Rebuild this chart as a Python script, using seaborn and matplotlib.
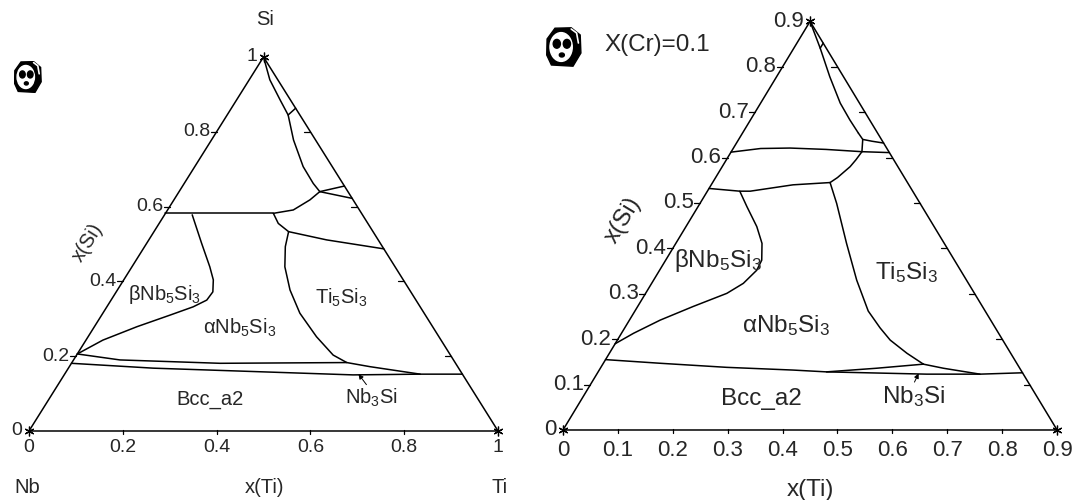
import numpy as np
import pandas as pd
import matplotlib
matplotlib.use("Agg")
import matplotlib.pyplot as plt
import seaborn as sns
from matplotlib.patches import Ellipse, Polygon

#---------Data (x(Ti), x(Si))--------------------------------
# left panel: Nb-Ti-Si
left_frame = [(0.0, 0.0), (1.0, 0.0), (0.0, 1.0), (0.0, 0.0)]
left_si58 = [(0.0, 0.582), (0.12, 0.582), (0.230, 0.582)]
left_beta = [(0.059, 0.578), (0.117, 0.502), (0.166, 0.439), (0.191, 0.404), (0.206, 0.372),
             (0.204, 0.350), (0.184, 0.332), (0.146, 0.310), (0.091, 0.279), (0.036, 0.243), (0.0, 0.206)]
left_bcc_top = [(0.0, 0.206), (0.099, 0.190), (0.317, 0.181), (0.586, 0.183), (0.641, 0.172),
                (0.758, 0.152), (0.848, 0.152)]
left_bcc_low = [(0.0, 0.181), (0.181, 0.168), (0.399, 0.159), (0.616, 0.150), (0.758, 0.152)]
left_ti5 = [(0.287, 0.533), (0.300, 0.493), (0.326, 0.439), (0.368, 0.377), (0.420, 0.315),
            (0.487, 0.252), (0.547, 0.203), (0.586, 0.183)]
left_ti5_top = [(0.287, 0.533), (0.379, 0.511), (0.513, 0.487)]
left_link = [(0.230, 0.582), (0.254, 0.555), (0.287, 0.533)]
left_arc = [(0.230, 0.582), (0.268, 0.591), (0.290, 0.618), (0.300, 0.640)]
left_edge_hi = [(0.300, 0.640), (0.345, 0.655)]
left_edge_lo = [(0.300, 0.640), (0.378, 0.622)]
left_apex = [(0.0, 1.0), (0.044, 0.939), (0.093, 0.885), (0.130, 0.845), (0.175, 0.778),
             (0.231, 0.707), (0.275, 0.662), (0.300, 0.640)]
left_cross = [(0.130, 0.845), (0.137, 0.863)]

# right panel: X(Cr)=0.1
right_frame = [(0.0, 0.0), (0.9, 0.0), (0.0, 0.9), (0.0, 0.0)]
right_apex = [(0.0, 0.9), (0.048, 0.841), (0.097, 0.778), (0.145, 0.720), (0.181, 0.683), (0.211, 0.654)]
right_cross = [(0.048, 0.841), (0.048, 0.852)]
right_top_edge = [(0.211, 0.654), (0.226, 0.640), (0.245, 0.636), (0.268, 0.632)]
right_stub = [(0.226, 0.640), (0.238, 0.613)]
right_si61 = [(0.0, 0.612), (0.05, 0.620), (0.103, 0.621), (0.17, 0.618), (0.238, 0.613), (0.289, 0.611)]
right_link = [(0.238, 0.613), (0.236, 0.595), (0.233, 0.580), (0.222, 0.556), (0.214, 0.545)]
right_si53 = [(0.0, 0.532), (0.059, 0.526), (0.078, 0.526), (0.149, 0.540), (0.214, 0.545)]
right_beta = [(0.059, 0.526), (0.089, 0.492), (0.129, 0.448), (0.157, 0.411), (0.175, 0.374),
              (0.177, 0.352), (0.167, 0.323), (0.148, 0.301), (0.101, 0.272), (0.056, 0.242),
              (0.022, 0.213), (0.0, 0.19)]
right_ti5 = [(0.214, 0.545), (0.249, 0.499), (0.311, 0.411), (0.370, 0.330), (0.425, 0.262),
             (0.465, 0.225), (0.497, 0.198), (0.542, 0.169), (0.584, 0.145)]
right_bcc_top = [(0.0, 0.155), (0.103, 0.147), (0.229, 0.138), (0.353, 0.132), (0.416, 0.128),
                 (0.503, 0.136), (0.584, 0.145)]
right_bcc_low = [(0.416, 0.128), (0.601, 0.123), (0.698, 0.123), (0.774, 0.126)]
right_nb3_top = [(0.584, 0.145), (0.625, 0.136), (0.698, 0.123)]

left_ticks = [0.2, 0.4, 0.6, 0.8]
left_labels = ["0", "0.2", "0.4", "0.6", "0.8", "1"]
right_ticks = [0.1, 0.2, 0.3, 0.4, 0.5, 0.6, 0.7, 0.8]
right_labels = ["0", "0.1", "0.2", "0.3", "0.4", "0.5", "0.6", "0.7", "0.8", "0.9"]


def to_frame(curves):
    rows = []
    for name, pts in curves.items():
        for i, (ti, si) in enumerate(pts):
            rows.append({"curve": name, "order": i, "X": ti + si / 2, "Y": si})
    return pd.DataFrame(rows)


left_df = to_frame({"frame": left_frame, "si58": left_si58, "beta": left_beta, "bcc_top": left_bcc_top,
                    "bcc_low": left_bcc_low, "ti5": left_ti5, "ti5_top": left_ti5_top, "link": left_link,
                    "arc": left_arc, "hi": left_edge_hi, "lo": left_edge_lo, "apex": left_apex,
                    "cross": left_cross})
right_df = to_frame({"frame": right_frame, "apex": right_apex, "cross": right_cross,
                     "top_edge": right_top_edge, "stub": right_stub, "si61": right_si61,
                     "link": right_link, "si53": right_si53, "beta": right_beta, "ti5": right_ti5,
                     "bcc_top": right_bcc_top, "bcc_low": right_bcc_low, "nb3": right_nb3_top})

#---------Style-----------
sns.set_style("white")
plt.rcParams["font.family"] = ["Liberation Sans", "DejaVu Sans"]
plt.rcParams["mathtext.fontset"] = "custom"
plt.rcParams["mathtext.rm"] = "Liberation Sans"
plt.rcParams["mathtext.default"] = "regular"

fig = plt.figure(figsize=(10.88, 5.0), dpi=100)
axL = fig.add_axes([0, 0, 0.5, 1])
axR = fig.add_axes([0.5, 0, 0.5, 1])


def draw_panel(ax, df, top, ticks, labels, dx, dy, fs):
    sns.lineplot(data=df, x="X", y="Y", units="curve", estimator=None, sort=False,
                 color="black", linewidth=1.1, ax=ax, legend=False)
    # edge ticks
    for t in ticks:
        ax.plot([t / 2 - dx, t / 2], [t, t], color="black", lw=0.9)
        ax.plot([top - t / 2 - dx, top - t / 2], [t, t], color="black", lw=0.9)
        ax.plot([t, t], [-dy, dy * 0.3], color="black", lw=0.9)
    corners = pd.DataFrame({"X": [0, top, top / 2], "Y": [0, 0, top]})
    ax.plot(corners["X"], corners["Y"], ls="none", marker=(6, 2, 0), ms=7, color="black", mew=0.9)
    vals = [0] + ticks + [top]
    for v, lab in zip(vals, labels):
        ax.text(v / 2 - dx * 1.1, v, lab, ha="right", va="center", fontsize=fs)
        ax.text(v, -0.022, lab, ha="center", va="top", fontsize=fs)
    ax.set_axis_off()


def draw_panda(x0, y0, w, h):
    ia = fig.add_axes([x0 / 1088, 1 - (y0 + h) / 500, w / 1088, h / 500])
    ia.add_patch(Polygon([(0.15, 0.05), (0.75, 0.02), (0.97, 0.35), (0.95, 0.8), (0.7, 0.98),
                          (0.25, 0.97), (0.03, 0.7), (0.02, 0.3)], closed=True, color="black"))
    ia.add_patch(Ellipse((0.42, 0.5), 0.62, 0.72, color="white"))
    ia.add_patch(Ellipse((0.3, 0.58), 0.2, 0.22, color="black"))
    ia.add_patch(Ellipse((0.58, 0.58), 0.2, 0.22, color="black"))
    ia.add_patch(Ellipse((0.44, 0.3), 0.14, 0.1, color="black"))
    ia.plot([0.7, 0.85, 0.9], [0.95, 0.85, 0.6], color="white", lw=1.2)
    ia.set_xlim(0, 1)
    ia.set_ylim(0, 1)
    ia.set_axis_off()


#---------Left panel-----------
draw_panel(axL, left_df, 1.0, left_ticks, left_labels, 0.0128, 0.008, 14)
axL.set_xlim(-0.0618, 1.098)
axL.set_ylim(-0.1845, 1.1524)
fsl = 14.5
axL.text(0.503, 1.10, "Si", ha="center", va="center", fontsize=fsl)
axL.text(-0.004, -0.15, "Nb", ha="center", va="center", fontsize=fsl)
axL.text(0.503, -0.15, "x(Ti)", ha="center", va="center", fontsize=fsl)
axL.text(1.004, -0.15, "Ti", ha="center", va="center", fontsize=fsl)
axL.text(0.124, 0.505, "x(Si)", ha="center", va="center", rotation=58, fontsize=fsl)
axL.text(0.29, 0.364, "βNb$_5$Si$_3$", ha="center", va="center", fontsize=fsl)
axL.text(0.45, 0.275, "αNb$_5$Si$_3$", ha="center", va="center", fontsize=fsl)
axL.text(0.665, 0.356, "Ti$_5$Si$_3$", ha="center", va="center", fontsize=fsl)
axL.text(0.386, 0.083, "Bcc_a2", ha="center", va="center", fontsize=fsl)
axL.text(0.731, 0.088, "Nb$_3$Si", ha="center", va="center", fontsize=fsl)
axL.annotate("", xy=(0.699, 0.158), xytext=(0.723, 0.118),
             arrowprops=dict(arrowstyle="-|>", color="black", lw=0.7, mutation_scale=7))

#---------Right panel-----------
draw_panel(axR, right_df, 0.9, right_ticks, right_labels, 0.011, 0.007, 16)
axR.set_xlim(-0.0346, 0.9563)
axR.set_ylim(-0.1542, 0.9471)
fsr = 17.5
axR.text(0.45, -0.132, "x(Ti)", ha="center", va="center", fontsize=fsr)
axR.text(0.109, 0.463, "x(Si)", ha="center", va="center", rotation=59, fontsize=fsr)
axR.text(0.075, 0.848, "X(Cr)=0.1", ha="left", va="center", fontsize=fsr)
axR.text(0.282, 0.374, "βNb$_5$Si$_3$", ha="center", va="center", fontsize=fsr)
axR.text(0.406, 0.231, "αNb$_5$Si$_3$", ha="center", va="center", fontsize=fsr)
axR.text(0.625, 0.346, "Ti$_5$Si$_3$", ha="center", va="center", fontsize=fsr)
axR.text(0.361, 0.068, "Bcc_a2", ha="center", va="center", fontsize=fsr)
axR.text(0.638, 0.073, "Nb$_3$Si", ha="center", va="center", fontsize=fsr)
axR.annotate("", xy=(0.650, 0.130), xytext=(0.638, 0.100),
             arrowprops=dict(arrowstyle="-|>", color="black", lw=0.7, mutation_scale=7))

draw_panda(14, 61, 28, 32)
draw_panda(546, 27, 36, 40)

plt.savefig("out.png", dpi=100)
